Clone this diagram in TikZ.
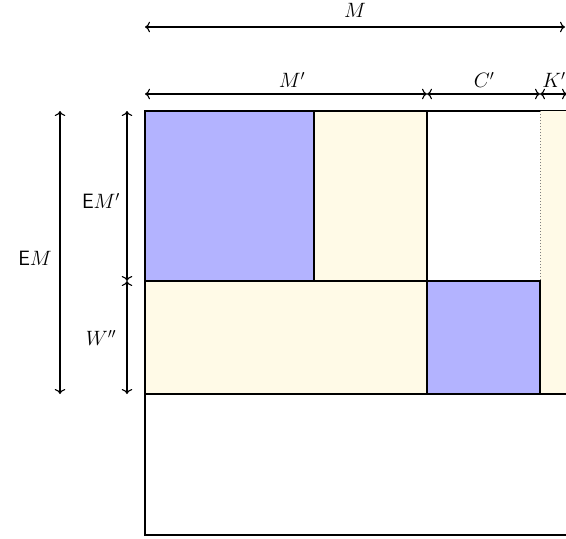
\documentclass[tikz,border=0pt]{standalone}
\usepackage{amsmath}
\usetikzlibrary{arrows.meta}
\begin{document}
\begin{tikzpicture}[x=1pt,y=-1pt,
  box/.style={draw=black,line width=1.1pt},
  blu/.style={box,fill=bluefill},
  yel/.style={box,fill=yelfill},
  dim/.style={{To[scale=1.25]}-{To[scale=1.25]},line width=1.1pt},
  lab/.style={font=\fontsize{21}{25}\selectfont,inner sep=0pt}]
\definecolor{bluefill}{RGB}{179,179,255}
\definecolor{yelfill}{RGB}{255,250,231}
\useasboundingbox (0,0) rectangle (566,539);
% outer frame
\draw[box] (145,111) rectangle (568,535);
% top-right region
\fill[yelfill] (540,111) rectangle (568,394);
\draw[gray,dotted,line width=1pt] (540,111) -- (540,281);
\draw[blu] (145,111) rectangle (314,281);
\draw[yel] (314,111) rectangle (427,281);
\draw[box] (427,111) -- (427,281);
\draw[yel] (145,281) rectangle (427,394);
\draw[blu] (427,281) rectangle (540,394);
\draw[box] (145,394) -- (568,394);
\draw[box] (145,281) -- (540,281);
% coordinates
\coordinate (mL) at (145,27);  \coordinate (mR) at (565,27);
\coordinate (a0) at (145,94);  \coordinate (a1) at (427,94);
\coordinate (a2) at (540,94);  \coordinate (a3) at (567,94);
\coordinate (v0) at (127,111); \coordinate (v1) at (127,281); \coordinate (v2) at (127,394);
\coordinate (e0) at (60,111);  \coordinate (e1) at (60,394);
\draw[dim] (mL) -- (mR);
\draw[dim] (a0) -- (a1);
\draw[dim] (a1) -- (a2);
\draw[dim] (a2) -- (a3);
\draw[dim] (v0) -- (v1);
\draw[dim] (v1) -- (v2);
\draw[dim] (e0) -- (e1);
\node[lab] (lM) at (355,10) {$M$};
\node[lab] (lMp) at (292,80) {$M'$};
\node[lab] (lCp) at (484,80) {$C'$};
\node[lab] (lKp) at (554,80) {$K'$};
\node[lab] (lEMp) at (101,201) {$\mathsf{E}M'$};
\node[lab] (lW) at (101,338) {$W''$};
\node[lab] (lEM) at (35,258) {$\mathsf{E}M$};
\end{tikzpicture}
\end{document}
